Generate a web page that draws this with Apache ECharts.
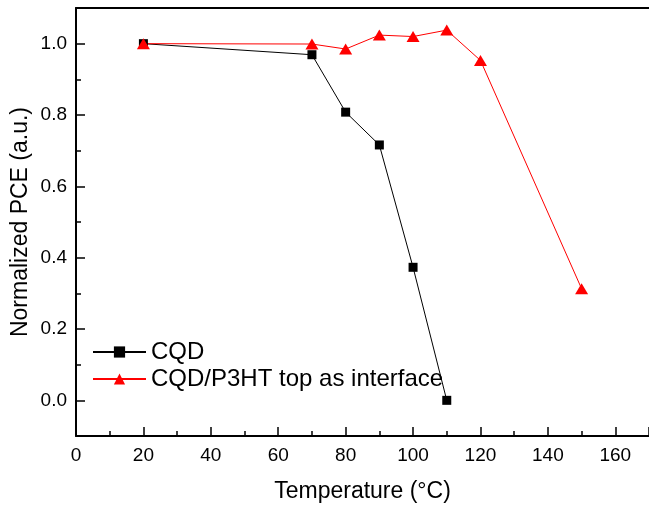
<!DOCTYPE html>
<html><head><meta charset="utf-8">
<script src="https://cdn.jsdelivr.net/npm/echarts@6/dist/echarts.min.js"></script>
<style>html,body{margin:0;padding:0;background:#fff}#c{width:649px;height:508px}</style>
</head><body><div id="c"></div>
<script>
const seriesNames = ['CQD', 'CQD/P3HT top as interface'];
const cqdTemp = [20, 70, 80, 90, 100, 110];
const cqdPCE = [1.0, 0.969, 0.808, 0.716, 0.373, 0.0];
const p3htTemp = [20, 70, 80, 90, 100, 110, 120, 150];
const p3htPCE = [1.0, 0.999, 0.985, 1.024, 1.02, 1.038, 0.953, 0.313];
const yMajorTicks = [0.0, 0.2, 0.4, 0.6, 0.8, 1.0];
const xTitle = 'Temperature (°C)';
const yTitle = 'Normalized PCE (a.u.)';

const font = '"Liberation Sans", Arial, sans-serif';
const chart = echarts.init(document.getElementById('c'), null, {renderer: 'canvas'});
const axisLine = {show: true, onZero: false, lineStyle: {color: '#000', width: 2}};
chart.setOption({
  animation: false,
  backgroundColor: '#fff',
  grid: {left: 76, right: -3, top: 8, bottom: 70, containLabel: false},
  legend: {
    orient: 'vertical', left: 92, top: 340, padding: 0, itemWidth: 53, itemHeight: 14, itemGap: 3,
    textStyle: {fontFamily: font, fontSize: 24, color: '#000'},
    data: seriesNames
  },
  xAxis: [{
    type: 'value', min: 0, max: 170, interval: 20, position: 'bottom',
    name: xTitle, nameLocation: 'middle', nameGap: 44, nameMoveOverlap: false,
    nameTextStyle: {fontFamily: font, fontSize: 23, color: '#000'},
    axisLine: axisLine,
    axisTick: {show: true, inside: true, length: 9, lineStyle: {color: '#000', width: 1.5}},
    minorTick: {show: true, splitNumber: 2, length: 5, lineStyle: {color: '#000', width: 1.5}},
    axisLabel: {fontFamily: font, fontSize: 19, color: '#000', margin: 10, showMaxLabel: false},
    splitLine: {show: false}
  }, {
    type: 'value', min: 0, max: 170, position: 'top',
    axisLine: axisLine, axisTick: {show: false}, axisLabel: {show: false}, splitLine: {show: false}
  }],
  yAxis: [{
    type: 'value', min: -0.1, max: 1.1, position: 'left',
    name: yTitle, nameLocation: 'middle', nameGap: 44, nameMoveOverlap: false,
    nameTextStyle: {fontFamily: font, fontSize: 23, color: '#000'},
    axisLine: axisLine,
    axisTick: {show: true, inside: true, length: 9, customValues: yMajorTicks, lineStyle: {color: '#000', width: 1.5}},
    axisLabel: {fontFamily: font, fontSize: 19, color: '#000', margin: 9, customValues: yMajorTicks,
      formatter: v => v.toFixed(1)},
    splitLine: {show: false}
  }, {
    type: 'value', min: -0.1, max: 1.1, position: 'left', offset: 0,
    axisLine: {show: false},
    axisTick: {show: true, inside: true, length: 5, customValues: [-0.1, 0.1, 0.3, 0.5, 0.7, 0.9, 1.1], lineStyle: {color: '#000', width: 1.5}},
    axisLabel: {show: false}, splitLine: {show: false}
  }],
  series: [{
    name: seriesNames[0], type: 'line', xAxisIndex: 0, yAxisIndex: 0,
    data: cqdTemp.map((t, i) => [t, cqdPCE[i]]),
    symbol: 'rect', symbolSize: 9,
    lineStyle: {color: '#000', width: 1}, itemStyle: {color: '#000'}
  }, {
    name: seriesNames[1], type: 'line', xAxisIndex: 0, yAxisIndex: 0,
    data: p3htTemp.map((t, i) => [t, p3htPCE[i]]),
    symbol: 'triangle', symbolSize: [13, 11],
    lineStyle: {color: '#ff0000', width: 1}, itemStyle: {color: '#ff0000'}
  }]
});
</script></body></html>
